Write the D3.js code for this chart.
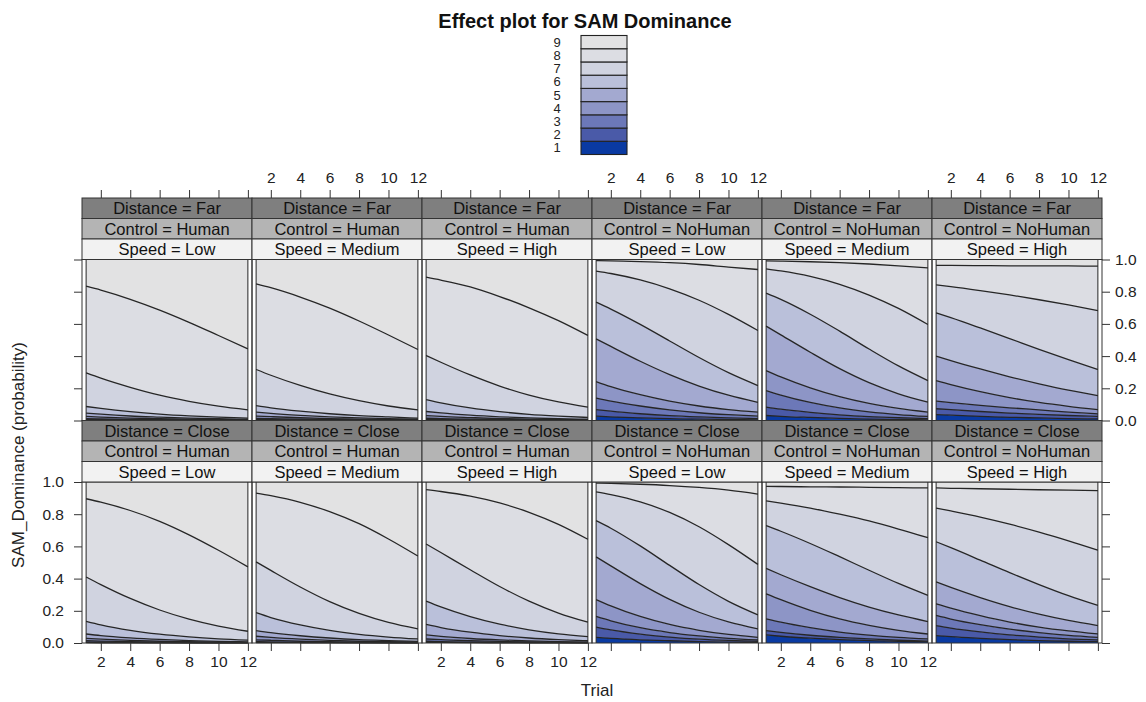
<!DOCTYPE html>
<html>
<head>
<meta charset="utf-8">
<script src="https://cdn.jsdelivr.net/npm/d3@7"></script>
<style>
  html, body { margin: 0; padding: 0; background: #ffffff; }
  svg { display: block; font-family: "Liberation Sans", Arial, sans-serif; }
</style>
</head>
<body>
<svg id="chart" width="1146" height="702"></svg>
<script>
// ---- data -------------------------------------------------------------
const trials = [1, 2, 4, 6, 8, 10, 12];
const xTicks = [2, 4, 6, 8, 10, 12];
const yTicks = [0, 0.2, 0.4, 0.6, 0.8, 1.0];
const domLevels = ["1", "2", "3", "4", "5", "6", "7", "8", "9"];
const distanceLevels = ["Far", "Close"];
const controlLevels = ["Human", "NoHuman"];
const speedLevels = ["Low", "Medium", "High"];
const levelColors = ["#0a3aa2", "#4a5aa8", "#6c78b8", "#8d95c6", "#a3a9d0",
                     "#bac0da", "#d0d3e0", "#dcdde3", "#e2e2e3"];

// cumulative probabilities P(SAM_Dominance <= k), k = 1..8, at each trial
const farHumanLow = [
  [.002, .002, .0015, .001, .001, .0007, .0005],
  [.006, .005, .004, .003, .002, .0015, .001],
  [.012, .010, .007, .005, .004, .003, .002],
  [.025, .021, .015, .011, .008, .006, .004],
  [.046, .039, .028, .021, .015, .011, .008],
  [.087, .075, .055, .040, .029, .021, .015],
  [.296, .263, .206, .157, .119, .089, .066],
  [.834, .810, .753, .686, .610, .528, .445]
];
const farHumanMedium = [
  [.002, .002, .0015, .001, .001, .0007, .0005],
  [.006, .005, .004, .003, .002, .0015, .001],
  [.013, .011, .008, .006, .004, .003, .002],
  [.028, .024, .017, .012, .009, .006, .004],
  [.052, .044, .032, .023, .016, .012, .008],
  [.093, .079, .058, .042, .030, .022, .015],
  [.317, .281, .218, .165, .123, .090, .066],
  [.849, .825, .767, .698, .618, .531, .441]
];
const farHumanHigh = [
  [.002, .002, .0015, .001, .001, .0007, .0005],
  [.006, .005, .004, .003, .002, .0015, .001],
  [.014, .012, .008, .006, .004, .003, .002],
  [.030, .025, .018, .012, .009, .006, .004],
  [.056, .047, .033, .023, .016, .011, .008],
  [.130, .110, .078, .055, .038, .027, .019],
  [.404, .362, .283, .214, .158, .115, .083],
  [.890, .872, .830, .770, .700, .620, .528]
];
const farNoHumanLow = [
  [.027, .023, .016, .012, .008, .006, .004],
  [.068, .058, .042, .030, .022, .016, .012],
  [.139, .120, .090, .066, .048, .036, .027],
  [.242, .210, .160, .120, .090, .068, .052],
  [.507, .460, .368, .285, .214, .157, .113],
  [.735, .692, .597, .494, .391, .297, .217],
  [.928, .913, .873, .818, .747, .659, .559],
  [.993, .992, .987, .980, .969, .953, .938]
];
const farNoHumanMedium = [
  [.031, .026, .019, .013, .009, .006, .004],
  [.083, .070, .050, .035, .024, .017, .012],
  [.186, .158, .112, .078, .054, .037, .025],
  [.310, .271, .203, .148, .106, .075, .052],
  [.586, .532, .424, .322, .235, .166, .114],
  [.791, .752, .660, .555, .444, .339, .248],
  [.942, .929, .895, .846, .779, .696, .596],
  [.992, .990, .986, .980, .972, .961, .948]
];
const farNoHumanHigh = [
  [.037, .033, .026, .020, .016, .012, .010],
  [.073, .067, .056, .046, .038, .031, .025],
  [.120, .111, .094, .079, .066, .052, .041],
  [.248, .223, .179, .142, .112, .088, .068],
  [.400, .372, .320, .271, .228, .189, .155],
  [.669, .639, .575, .509, .442, .378, .317],
  [.843, .832, .807, .780, .750, .718, .683],
  [.963, .963, .962, .961, .961, .960, .959]
];
const closeHumanLow = [
  [.002, .0017, .0012, .0008, .0006, .0004, .0003],
  [.006, .005, .0035, .0025, .0017, .0012, .0008],
  [.014, .012, .008, .005, .004, .003, .002],
  [.029, .024, .016, .011, .008, .005, .004],
  [.056, .046, .032, .022, .015, .010, .007],
  [.135, .113, .079, .055, .038, .026, .018],
  [.410, .363, .277, .205, .148, .105, .073],
  [.896, .875, .823, .756, .672, .576, .473]
];
const closeHumanMedium = [
  [.003, .0025, .0017, .0012, .0008, .0005, .0004],
  [.009, .0075, .005, .0035, .0024, .0016, .0011],
  [.020, .017, .011, .008, .005, .004, .0025],
  [.042, .035, .024, .016, .011, .008, .005],
  [.077, .064, .045, .031, .021, .015, .010],
  [.188, .158, .112, .078, .054, .037, .025],
  [.504, .451, .348, .257, .184, .128, .088],
  [.931, .915, .874, .816, .741, .646, .540]
];
const closeHumanHigh = [
  [.004, .0033, .0022, .0015, .001, .0007, .0005],
  [.011, .009, .006, .004, .003, .002, .0013],
  [.025, .021, .014, .0095, .0065, .0045, .003],
  [.050, .041, .028, .019, .013, .009, .006],
  [.115, .096, .067, .046, .031, .021, .014],
  [.260, .224, .164, .117, .082, .057, .040],
  [.615, .562, .455, .351, .260, .186, .129],
  [.952, .941, .912, .870, .812, .737, .644]
];
const closeNoHumanLow = [
  [.035, .029, .020, .014, .009, .006, .004],
  [.098, .081, .055, .037, .024, .016, .011],
  [.165, .138, .095, .065, .044, .029, .019],
  [.270, .231, .165, .115, .079, .053, .035],
  [.535, .479, .369, .271, .191, .131, .088],
  [.760, .713, .603, .482, .363, .259, .175],
  [.938, .921, .876, .811, .722, .611, .488],
  [.993, .991, .986, .978, .966, .949, .925]
];
const closeNoHumanMedium = [
  [.050, .042, .030, .021, .015, .010, .007],
  [.077, .066, .048, .035, .025, .017, .012],
  [.150, .129, .095, .068, .049, .035, .025],
  [.306, .269, .203, .150, .110, .079, .056],
  [.463, .424, .350, .282, .223, .174, .133],
  [.729, .694, .618, .536, .452, .370, .296],
  [.883, .869, .838, .800, .758, .708, .654],
  [.973, .972, .970, .969, .967, .965, .963]
];
const closeNoHumanHigh = [
  [.046, .039, .029, .021, .015, .011, .008],
  [.108, .093, .069, .050, .037, .026, .019],
  [.171, .149, .114, .086, .064, .047, .035],
  [.244, .217, .170, .130, .099, .075, .056],
  [.379, .345, .282, .226, .179, .140, .108],
  [.629, .592, .515, .437, .363, .294, .233],
  [.838, .820, .782, .738, .689, .635, .577],
  [.963, .961, .958, .955, .952, .949, .946]
];

const panelData = {
  "Far|Human|Low": farHumanLow, "Far|Human|Medium": farHumanMedium, "Far|Human|High": farHumanHigh,
  "Far|NoHuman|Low": farNoHumanLow, "Far|NoHuman|Medium": farNoHumanMedium, "Far|NoHuman|High": farNoHumanHigh,
  "Close|Human|Low": closeHumanLow, "Close|Human|Medium": closeHumanMedium, "Close|Human|High": closeHumanHigh,
  "Close|NoHuman|Low": closeNoHumanLow, "Close|NoHuman|Medium": closeNoHumanMedium, "Close|NoHuman|High": closeNoHumanHigh
};

// ---- layout -----------------------------------------------------------
const svg = d3.select("#chart");
const FONT = '"Liberation Sans", Arial, sans-serif';
const stripH = 20.5;
const stripFills = ["#7f7f7f", "#b4b4b4", "#f2f2f2"];
const lineColor = "#262626";

const columns = [];
controlLevels.forEach(c => speedLevels.forEach(s => columns.push(c + "|" + s)));

const colScale = d3.scaleBand().domain(columns).range([82, 1102]);
const rowScale = d3.scaleBand().domain(distanceLevels).range([198, 643]);

// ---- title ------------------------------------------------------------
svg.append("text")
  .attr("x", 585).attr("y", 28)
  .attr("text-anchor", "middle")
  .style("font", `bold 20px ${FONT}`)
  .attr("fill", "#111")
  .text("Effect plot for SAM Dominance");

// ---- legend (colour key) ---------------------------------------------
const keyScale = d3.scaleBand().domain(domLevels.slice().reverse()).range([35.5, 154.5]);
const key = svg.append("g");
key.selectAll("rect").data(domLevels).join("rect")
  .attr("x", 581).attr("width", 46)
  .attr("y", d => keyScale(d)).attr("height", keyScale.bandwidth())
  .attr("fill", (d, i) => levelColors[i])
  .attr("stroke", "#222").attr("stroke-width", 1.1);
key.selectAll("text").data(domLevels).join("text")
  .attr("x", 557).attr("y", d => keyScale(d) + keyScale.bandwidth() / 2 + 4.6)
  .attr("text-anchor", "middle")
  .style("font", `13px ${FONT}`)
  .attr("fill", "#222")
  .text(d => d);

// ---- panels -----------------------------------------------------------
distanceLevels.forEach((dist, ri) => {
  const rowTop = rowScale(dist);
  const plotTop = rowTop + 3 * stripH;
  const plotBottom = rowTop + rowScale.bandwidth();
  const y = d3.scaleLinear().domain([0, 1]).range([plotBottom, plotTop]);

  columns.forEach((col, ci) => {
    const [control, speed] = col.split("|");
    const left = colScale(col);
    const w = colScale.bandwidth();
    const x = d3.scaleLinear().domain([0.72, 12.28]).range([left, left + w]);
    const cum = panelData[dist + "|" + col];
    const g = svg.append("g");

    // stacked bands, level 1 at the bottom
    const zeros = trials.map(() => 0), ones = trials.map(() => 1);
    const bounds = [zeros, ...cum, ones];
    const area = d3.area()
      .x((d, i) => x(trials[i]))
      .y0(d => y(d[0]))
      .y1(d => y(d[1]))
      .curve(d3.curveMonotoneX);
    domLevels.forEach((lv, k) => {
      const pts = trials.map((t, i) => [bounds[k][i], bounds[k + 1][i]]);
      g.append("path").attr("d", area(pts)).attr("fill", levelColors[k]);
    });

    // boundary curves
    const line = d3.line()
      .x((d, i) => x(trials[i]))
      .y(d => y(d))
      .curve(d3.curveMonotoneX);
    cum.forEach(c => {
      g.append("path").attr("d", line(c))
        .attr("fill", "none").attr("stroke", lineColor).attr("stroke-width", 1.3);
    });
    // vertical edges of the stacked region
    [1, 12].forEach(t => {
      g.append("line")
        .attr("x1", x(t)).attr("x2", x(t))
        .attr("y1", y(0)).attr("y2", y(1))
        .attr("stroke", lineColor).attr("stroke-width", 1);
    });

    // panel border
    g.append("rect")
      .attr("x", left).attr("y", plotTop).attr("width", w).attr("height", plotBottom - plotTop)
      .attr("fill", "none").attr("stroke", "#333").attr("stroke-width", 1);

    // strips
    const stripTexts = ["Distance = " + dist, "Control = " + control, "Speed = " + speed];
    stripTexts.forEach((txt, si) => {
      const sy = rowTop + si * stripH;
      g.append("rect")
        .attr("x", left).attr("y", sy).attr("width", w).attr("height", stripH)
        .attr("fill", stripFills[si]).attr("stroke", "#333").attr("stroke-width", 1);
      g.append("text")
        .attr("x", left + w / 2).attr("y", sy + stripH / 2 + 5.8)
        .attr("text-anchor", "middle")
        .style("font", `16.5px ${FONT}`)
        .attr("fill", "#111")
        .text(txt);
    });

    // top ticks (labels on alternating columns, top row only)
    if (ri === 0) {
      const ax = d3.axisTop(x).tickValues(xTicks).tickSize(8).tickPadding(7)
        .tickFormat(ci % 2 === 1 ? d3.format("d") : () => "");
      const ga = svg.append("g").attr("transform", `translate(0,${rowTop})`).call(ax);
      ga.select(".domain").remove();
    }
    // bottom ticks (bottom row only)
    if (ri === distanceLevels.length - 1) {
      const ax = d3.axisBottom(x).tickValues(xTicks).tickSize(8).tickPadding(5)
        .tickFormat(ci % 2 === 0 ? d3.format("d") : () => "");
      const ga = svg.append("g").attr("transform", `translate(0,${plotBottom})`).call(ax);
      ga.select(".domain").remove();
    }
    // left ticks
    if (ci === 0) {
      const ax = d3.axisLeft(y).tickValues(yTicks).tickSize(8).tickPadding(10)
        .tickFormat(ri === 1 ? d3.format(".1f") : () => "");
      const ga = svg.append("g").attr("transform", `translate(${left},0)`).call(ax);
      ga.select(".domain").remove();
    }
    // right ticks
    if (ci === columns.length - 1) {
      const ax = d3.axisRight(y).tickValues(yTicks).tickSize(8).tickPadding(5)
        .tickFormat(ri === 0 ? d3.format(".1f") : () => "");
      const ga = svg.append("g").attr("transform", `translate(${left + w},0)`).call(ax);
      ga.select(".domain").remove();
    }
  });
});

svg.selectAll(".tick text").style("font", `15.5px ${FONT}`).attr("fill", "#222");
svg.selectAll(".tick line").attr("stroke", "#333");

// ---- axis titles ------------------------------------------------------
svg.append("text")
  .attr("x", 597).attr("y", 696)
  .attr("text-anchor", "middle")
  .style("font", `17px ${FONT}`)
  .attr("fill", "#222")
  .text("Trial");
svg.append("text")
  .attr("transform", "translate(23.5,455) rotate(-90)")
  .attr("text-anchor", "middle")
  .style("font", `17px ${FONT}`)
  .attr("fill", "#222")
  .text("SAM_Dominance (probability)");
</script>
</body>
</html>
